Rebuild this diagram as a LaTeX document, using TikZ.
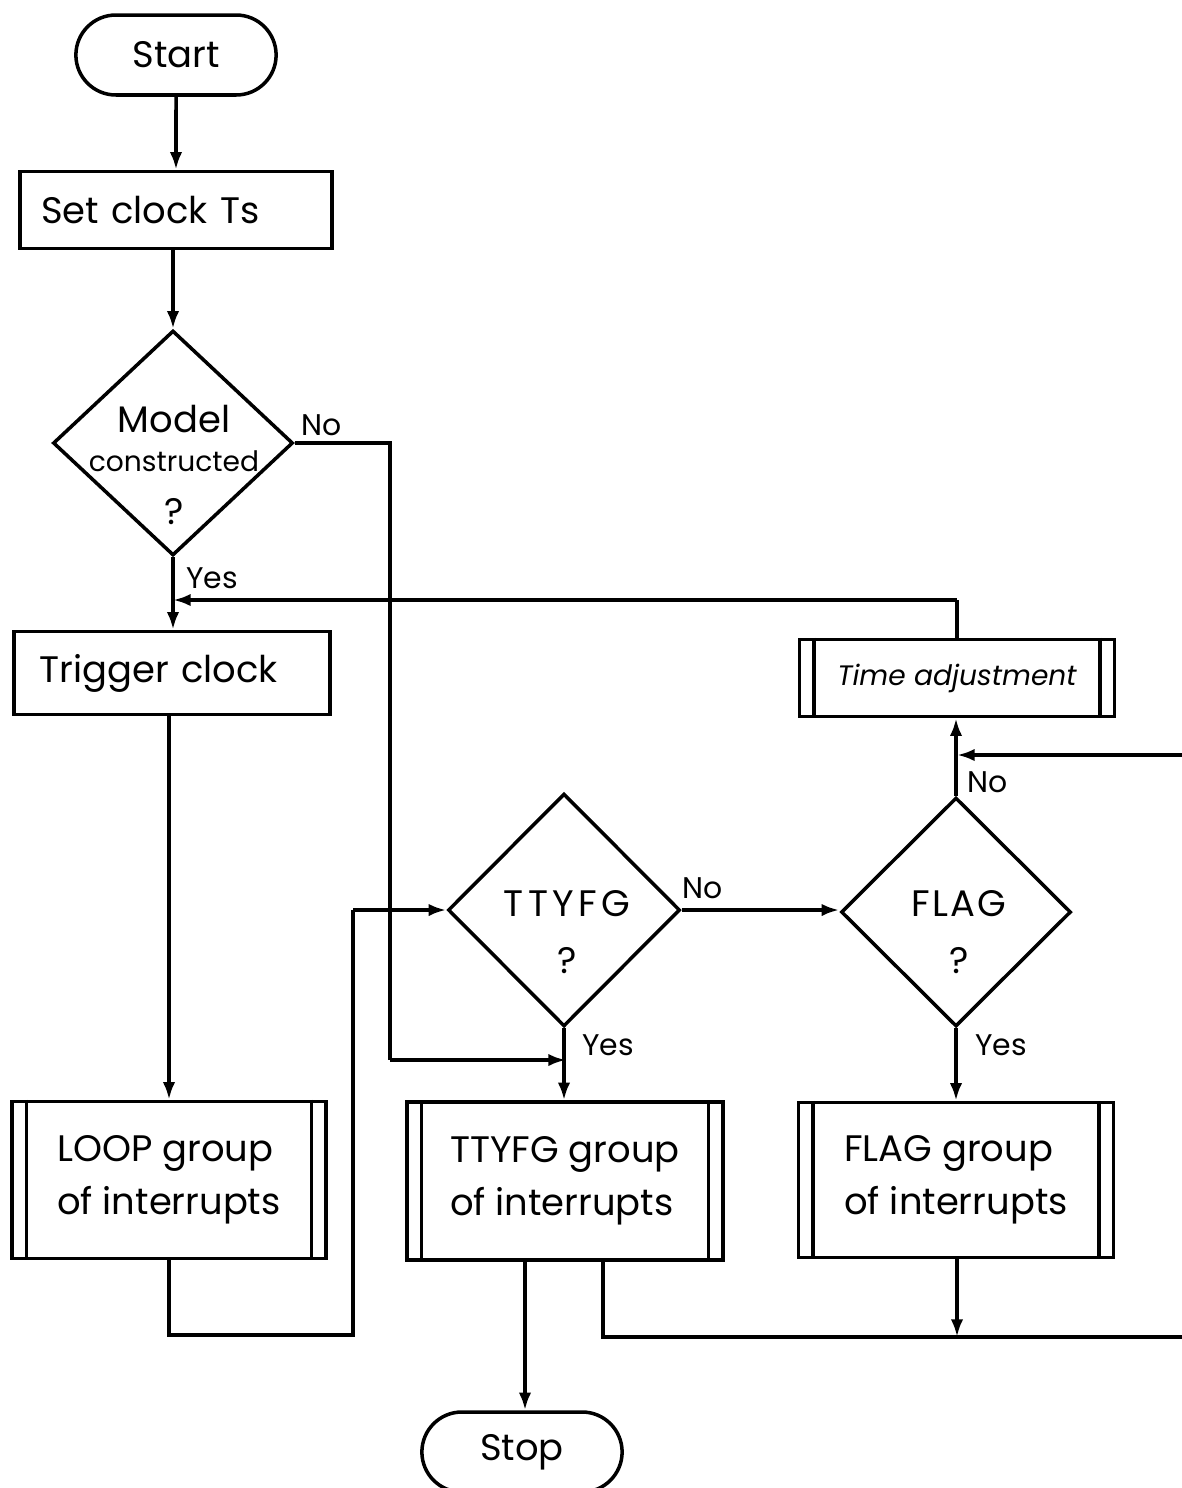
\documentclass[tikz,border=0pt]{standalone}
\usepackage{fontspec}
\setmainfont{Poppins}
\usetikzlibrary{arrows.meta}
\usetikzlibrary{shapes.geometric}
\usetikzlibrary{shapes.misc}
\newcommand{\boxfont}{\fontsize{21}{30}\selectfont}
\newcommand{\lblfont}{\fontsize{17}{20}\selectfont}
\newcommand{\midfont}{\fontsize{16}{20}\selectfont}

\begin{document}
\begin{tikzpicture}[x=0.02cm,y=-0.02cm,line width=2pt]
\tikzstyle{every node}=[font=\boxfont]
\tikzstyle{terminal}=[draw,rounded rectangle,minimum width=4.24cm,minimum height=1.6cm]
\tikzstyle{process}=[draw,rectangle,inner sep=0pt,align=left]
\tikzstyle{decision}=[draw,diamond,inner sep=0pt]
\tikzstyle{lbl}=[font=\lblfont,inner sep=1pt]
\tikzstyle{flow}=[-{Latex[length=10pt,width=7pt]}]
\useasboundingbox (0,0) rectangle (1181,1488);
% boxes
\node[terminal] (start) at (176,55) {Start};
\node[process,minimum width=6.24cm,minimum height=1.54cm,text width=5.4cm] (setclk) at (176,210) {Set clock Ts};
\node[decision,minimum width=4.8cm,minimum height=4.5cm] (model) at (173,443) {};
\node[align=center,inner sep=0pt] (modeltxt) at (174,465) {Model\\[-8pt]{\midfont constructed}\\[0pt]?};
\node[process,minimum width=6.32cm,minimum height=1.66cm,text width=5.3cm] (trig) at (172,673) {Trigger clock};
\node[process,minimum width=6.3cm,minimum height=1.54cm] (timeadj) at (957,678) {\midfont\itshape Time adjustment};
\node[decision,minimum width=4.64cm,minimum height=4.66cm] (ttyfg) at (564,910) {};
\node[align=center,inner sep=0pt] (ttyfgtxt) at (567,932) {\addfontfeature{LetterSpace=12}TTYFG\\[2pt]?};
\node[decision,minimum width=4.6cm,minimum height=4.58cm] (flag) at (956,912) {};
\node[align=center,inner sep=0pt] (flagtxt) at (959,932) {\addfontfeature{LetterSpace=6}FLAG\\[2pt]?};
\node[process,minimum width=6.28cm,minimum height=3.14cm] (loop) at (169,1180) {LOOP group\\of interrupts};
\node[process,minimum width=6.32cm,minimum height=3.16cm] (ttgrp) at (565,1181) {TTYFG group\\of interrupts};
\node[process,minimum width=6.3cm,minimum height=3.1cm] (flaggrp) at (956,1180) {FLAG group\\of interrupts};
\node[terminal] (stop) at (522,1452) {Stop};
% double sides of the predefined processes
\foreach \n in {loop,ttgrp,flaggrp,timeadj}{
  \draw ([xshift=0.32cm]\n.north west) -- ([xshift=0.32cm]\n.south west);
  \draw ([xshift=-0.32cm]\n.north east) -- ([xshift=-0.32cm]\n.south east);
}
% joints on the lines
\coordinate (fbjoin) at (173,600);
\coordinate (nojoin) at (566,1060);
\coordinate (retjoin) at (957,755);
\coordinate (endjoin) at (957,1337);
% connectors
\draw[flow] (start) -- (setclk);
\draw[flow] (setclk.south -| model.north) -- (model.north);
\draw[flow] (model.south) -- (trig.north -| model.south);
\draw (model.east) -- (model.east -| 390,0) -- (390,1060);
\draw[flow] (390,1060) -- (nojoin);
\draw (timeadj.north) -- (957,600);
\draw[flow] (957,600) -- (fbjoin);
\draw[flow] (trig.south -| loop.north) -- (loop.north);
\draw (loop.south) -- (169,1335) -- (353,1335) -- (ttyfg.west -| 353,0);
\draw[flow] (ttyfg.west -| 353,0) -- (ttyfg.west);
\draw[flow] (ttyfg.east) -- (ttyfg.east -| flag.west);
\draw[flow] (ttyfg.south) -- (ttgrp.north -| ttyfg.south);
\draw[flow] (flag.south) -- (flaggrp.north -| flag.south);
\draw[flow] (flag.north) -- (timeadj.south -| flag.north);
\draw[flow] (ttgrp.south -| 525,0) -- (stop.north -| 525,0);
\draw (ttgrp.south -| 603,0) -- (603,1337) -- (1195,1337) -- (1195,755);
\draw[flow] (1195,755) -- (retjoin);
\draw[flow] (flaggrp.south -| endjoin) -- (endjoin);
% branch labels
\node[lbl] (modelno) at (322,425) {No};
\node[lbl] (modelyes) at (212,578) {Yes};
\node[lbl] (ttyfgno) at (703,888) {No};
\node[lbl] (ttyfgyes) at (608,1045) {Yes};
\node[lbl] (flagno) at (988,782) {No};
\node[lbl] (flagyes) at (1001,1045) {Yes};
\end{tikzpicture}
\end{document}
